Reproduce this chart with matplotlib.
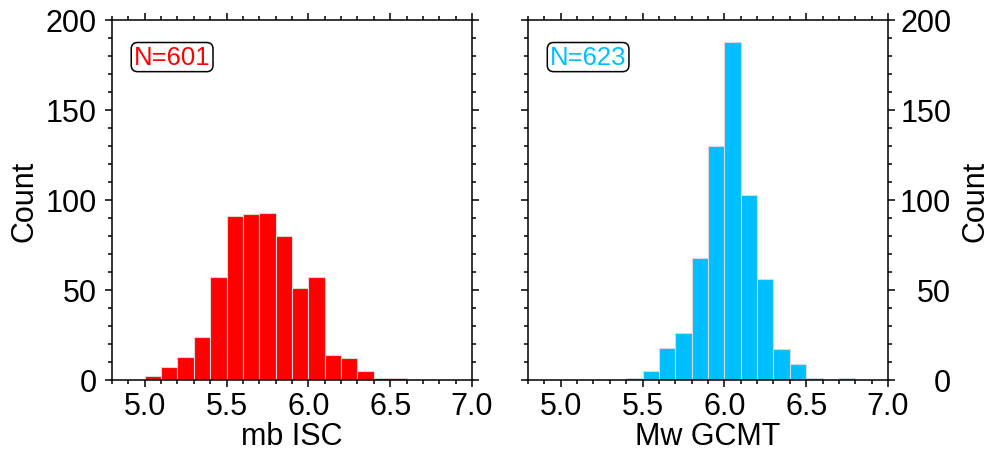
import numpy as np
import matplotlib.pyplot as plt
from matplotlib.ticker import MultipleLocator

plt.rcParams['font.family'] = ['Liberation Sans', 'DejaVu Sans']

# bin edges are 0.1 wide
mb_edges = [5.0, 5.1, 5.2, 5.3, 5.4, 5.5, 5.6, 5.7, 5.8, 5.9, 6.0, 6.1, 6.2, 6.3, 6.4, 6.5, 6.6]
mb_counts = [2, 7, 13, 24, 57, 91, 92, 93, 80, 51, 57, 14, 12, 5, 1, 1]

mw_edges = [5.4, 5.5, 5.6, 5.7, 5.8, 5.9, 6.0, 6.1, 6.2, 6.3, 6.4, 6.5, 6.6, 6.7, 6.8]
mw_counts = [1, 5, 18, 26, 68, 130, 188, 103, 56, 17, 9, 1, 0, 1]

panels = [
    (mb_edges, mb_counts, '#ff0000', 'mb ISC', 'N=601', 'left'),
    (mw_edges, mw_counts, '#00bfff', 'Mw GCMT', 'N=623', 'right'),
]

fig = plt.figure(figsize=(9.91, 4.56), dpi=100)
lefts = [112 / 991, 528 / 991]
fs = 22

for (edges, counts, col, xlab, ntxt, side), l in zip(panels, lefts):
    ax = fig.add_axes([l, 75 / 456, 360 / 991, 360 / 456])
    edges = np.array(edges)
    ax.bar(edges[:-1], counts, width=np.diff(edges), align='edge',
           color=col, edgecolor='#d9d9d9', linewidth=0.8)
    ax.set_xlim(4.8, 7.0)
    ax.set_ylim(0, 200)
    ax.xaxis.set_major_locator(MultipleLocator(0.5))
    ax.xaxis.set_minor_locator(MultipleLocator(0.1))
    ax.yaxis.set_major_locator(MultipleLocator(50))
    ax.yaxis.set_minor_locator(MultipleLocator(10))
    ax.xaxis.set_major_formatter(plt.FormatStrFormatter('%.1f'))
    for s in ax.spines.values():
        s.set_linewidth(1.1)
    ax.tick_params(which='both', direction='out', top=True, bottom=True,
                   left=True, right=True, width=1.1, labelsize=fs)
    ax.tick_params(which='major', length=5)
    ax.tick_params(which='minor', length=3)
    ax.tick_params(axis='x', which='major', pad=3)
    if side == 'right':
        # right-side labels are right-aligned in the original
        ax.tick_params(axis='y', which='major', labelleft=False,
                       labelright=True, pad=40.5)
        for lb in ax.get_yticklabels():
            lb.set_horizontalalignment('right')
        ax.yaxis.set_label_position('right')
        ax.set_ylabel('Count', fontsize=fs, labelpad=7)
    else:
        ax.tick_params(axis='y', which='major', pad=6)
        ax.set_ylabel('Count', fontsize=fs, labelpad=4)
    ax.set_xlabel(xlab, fontsize=fs, labelpad=0)
    ax.text(0.167, 0.897, ntxt, transform=ax.transAxes, color=col,
            fontsize=18.5, ha='center', va='center',
            bbox=dict(boxstyle='round,pad=0.1,rounding_size=0.25',
                      fc='white', ec='black', lw=1.1))

plt.savefig('out.png', dpi=100)
